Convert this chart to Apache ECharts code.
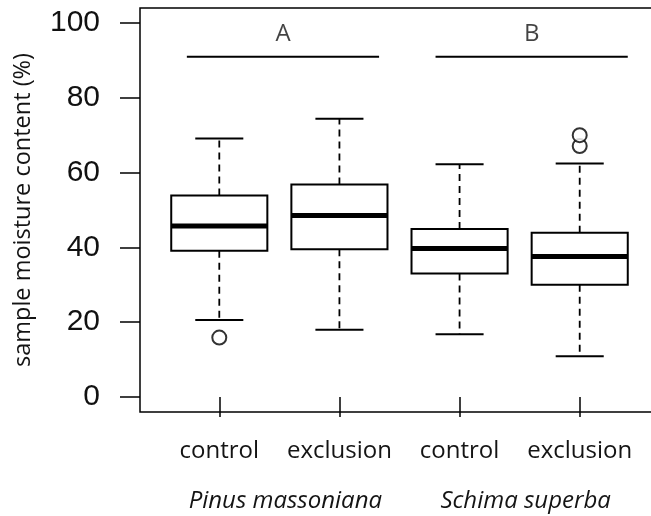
<!DOCTYPE html>
<html>
<head>
<meta charset="utf-8">
<script src="https://cdn.jsdelivr.net/npm/echarts@6/dist/echarts.min.js"></script>
<style>
  html, body { margin: 0; padding: 0; background: #fff; }
  #chart { width: 651px; height: 516px; }
</style>
</head>
<body>
<div id="chart"></div>
<script>
// data
const categories = ['control', 'exclusion', 'control', 'exclusion']
const species = ['Pinus massoniana', 'Schima superba']
const speciesPos = [1.55, 3.55]
// [lower whisker, Q1, median, Q3, upper whisker]
const boxStats = [
  [20.6, 39.1, 45.7, 53.9, 69.1],
  [18.0, 39.5, 48.5, 56.8, 74.4],
  [16.8, 33.0, 39.7, 44.9, 62.2],
  [10.9, 30.0, 37.6, 43.9, 62.4],
]
const outliers = [[1, 15.9], [4, 67.1], [4, 70.0]]
const yTicks = [0, 20, 40, 60, 80, 100]
const xTicks = [1, 2, 3, 4]
const groupLetters = ['A', 'B']
const groupLines = [[0.73, 2.33], [2.8, 4.4]]
const groupLineY = 91
const groupLetterY = 97.0

const chart = echarts.init(document.getElementById('chart'))

const black = '#000'
const textColor = '#141414'

const renderBox = (params, api) => {
  const x = api.value(0)
  const half = api.size([0.4, 0])[0]
  const cap = half / 2
  const [cx, yLow] = api.coord([x, api.value(1)])
  const yQ1 = api.coord([x, api.value(2)])[1]
  const yMed = api.coord([x, api.value(3)])[1]
  const yQ3 = api.coord([x, api.value(4)])[1]
  const yHigh = api.coord([x, api.value(5)])[1]
  const dashed = { stroke: black, lineWidth: 1.8, lineDash: [7, 5] }
  const solid = { stroke: black, lineWidth: 2 }
  return {
    type: 'group',
    children: [
      { type: 'line', shape: { x1: cx, y1: yQ3, x2: cx, y2: yHigh }, style: dashed },
      { type: 'line', shape: { x1: cx, y1: yQ1, x2: cx, y2: yLow }, style: dashed },
      { type: 'line', shape: { x1: cx - cap, y1: yHigh, x2: cx + cap, y2: yHigh }, style: solid },
      { type: 'line', shape: { x1: cx - cap, y1: yLow, x2: cx + cap, y2: yLow }, style: solid },
      {
        type: 'rect',
        shape: { x: cx - half, y: yQ3, width: half * 2, height: yQ1 - yQ3 },
        style: { fill: '#fff', stroke: black, lineWidth: 2 },
      },
      { type: 'line', shape: { x1: cx - half, y1: yMed, x2: cx + half, y2: yMed }, style: { stroke: black, lineWidth: 5 } },
    ],
  }
}

const renderGroupLine = (params, api) => {
  const p1 = api.coord([api.value(0), api.value(2)])
  const p2 = api.coord([api.value(1), api.value(2)])
  return {
    type: 'line',
    shape: { x1: p1[0], y1: p1[1], x2: p2[0], y2: p2[1] },
    style: { stroke: black, lineWidth: 2 },
  }
}

const option = {
  animation: false,
  backgroundColor: '#fff',
  grid: {
    left: 140,
    top: 8,
    width: 519,
    height: 404,
    show: true,
    borderColor: black,
    borderWidth: 1.5,
    containLabel: false,
    outerBoundsMode: 'none',
  },
  xAxis: [
    {
      type: 'value',
      min: 0.34,
      max: 4.66,
      axisLine: { show: false },
      splitLine: { show: false },
      axisTick: { show: true, length: 20, customValues: xTicks, lineStyle: { color: black, width: 1.5 } },
      axisLabel: {
        customValues: xTicks,
        formatter: v => categories[Math.round(v) - 1],
        margin: 27,
        fontSize: 24,
        fontFamily: 'Open Sans',
        color: textColor,
      },
    },
    {
      type: 'value',
      min: 0.34,
      max: 4.66,
      position: 'bottom',
      offset: 51,
      axisLine: { show: false },
      splitLine: { show: false },
      axisTick: { show: false },
      axisLabel: {
        customValues: speciesPos,
        formatter: v => species[speciesPos.findIndex(p => Math.abs(p - v) < 0.01)],
        margin: 26,
        fontSize: 24,
        fontStyle: 'italic',
        fontFamily: 'Open Sans',
        color: textColor,
      },
    },
  ],
  yAxis: {
    type: 'value',
    min: -4,
    max: 104,
    axisLine: { show: false },
    splitLine: { show: false },
    axisTick: { show: true, length: 20, customValues: yTicks, lineStyle: { color: black, width: 1.5 } },
    axisLabel: {
      customValues: yTicks,
      margin: 40,
      fontSize: 30,
      fontFamily: 'Liberation Sans',
      color: '#111',
    },
    name: 'sample moisture content (%)',
    nameLocation: 'middle',
    nameRotate: 90,
    nameGap: 105,
    nameTextStyle: { fontSize: 23.5, fontFamily: 'Open Sans', color: textColor },
  },
  series: [
    {
      type: 'custom',
      renderItem: renderBox,
      data: boxStats.map((s, i) => [xTicks[i], ...s]),
      clip: false,
    },
    {
      type: 'scatter',
      data: outliers,
      symbol: 'emptyCircle',
      symbolSize: 14,
      itemStyle: { color: black, borderColor: black, borderWidth: 1.7 },
      z: 5,
    },
    {
      type: 'custom',
      renderItem: renderGroupLine,
      data: groupLines.map(([a, b]) => [a, b, groupLineY]),
    },
    {
      type: 'scatter',
      symbolSize: 0,
      data: groupLines.map(([a, b], i) => ({ name: groupLetters[i], value: [(a + b) / 2, groupLetterY] })),
      label: {
        show: true,
        position: 'inside',
        formatter: p => p.name,
        fontSize: 24,
        fontFamily: 'Open Sans',
        color: textColor,
      },
    },
  ],
}

chart.setOption(option)
</script>
</body>
</html>
